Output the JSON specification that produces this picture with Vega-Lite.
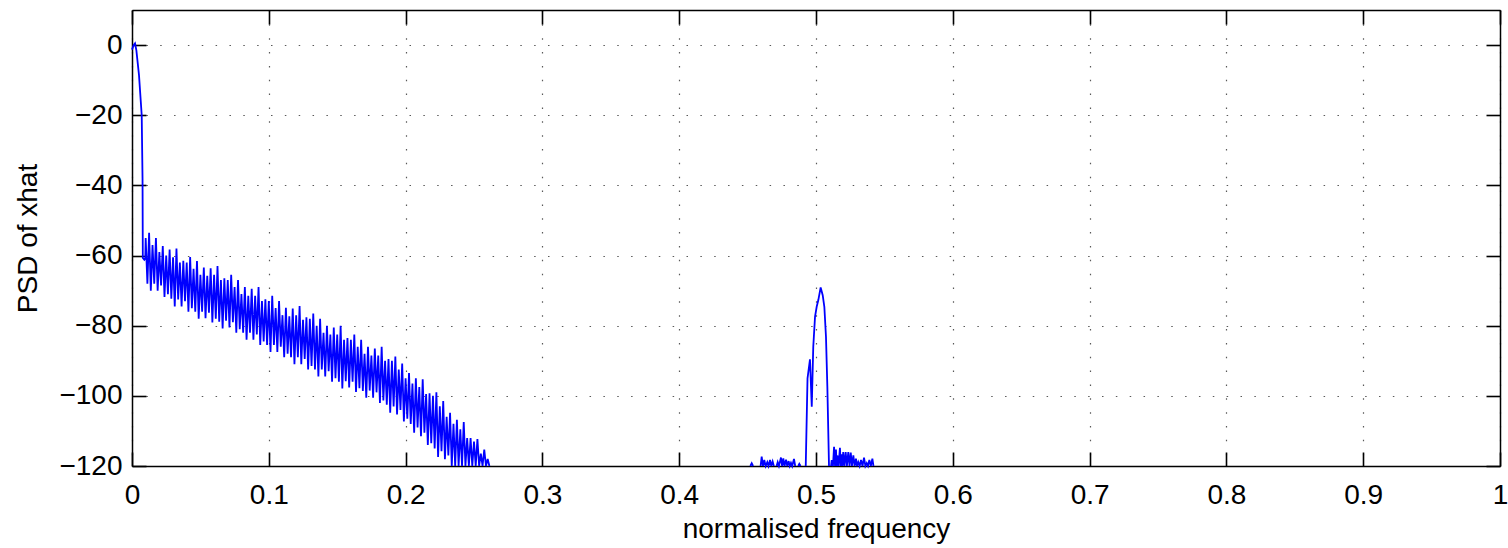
{
  "$schema": "https://vega.github.io/schema/vega-lite/v6.json",
  "width": 1368,
  "height": 456,
  "autosize": {"type": "none"},
  "padding": {"left": 132, "top": 10, "right": 8, "bottom": 82},
  "background": "white",
  "layer": [
    {
      "data": {"values": [
      {"s":1,"f":0,"p":-1.3},{"s":1,"f":0.0012,"p":0},{"s":1,"f":0.0022,"p":0.5},{"s":1,"f":0.0032,"p":-1.5},{"s":1,"f":0.0051,"p":-8.5},{"s":1,"f":0.0071,"p":-20},{"s":1,"f":0.0077,"p":-38},{"s":1,"f":0.0079,"p":-60.7},{"s":1,"f":0.009,"p":-61.2},{"s":1,"f":0.0097,"p":-60.8},
      {"s":1,"f":0.01,"p":-55},{"s":1,"f":0.01125,"p":-68},
      {"s":1,"f":0.0125,"p":-53.5},{"s":1,"f":0.01375,"p":-70},
      {"s":1,"f":0.015,"p":-57},{"s":1,"f":0.01625,"p":-68},
      {"s":1,"f":0.0175,"p":-55},{"s":1,"f":0.01875,"p":-70},
      {"s":1,"f":0.02,"p":-59},{"s":1,"f":0.02125,"p":-68.5},
      {"s":1,"f":0.0225,"p":-57.3},{"s":1,"f":0.02375,"p":-71.8},
      {"s":1,"f":0.025,"p":-60},{"s":1,"f":0.02625,"p":-71},
      {"s":1,"f":0.0275,"p":-58.3},{"s":1,"f":0.02875,"p":-72.3},
      {"s":1,"f":0.03,"p":-60.5},{"s":1,"f":0.03125,"p":-74.5},
      {"s":1,"f":0.0325,"p":-58},{"s":1,"f":0.03375,"p":-72.5},
      {"s":1,"f":0.035,"p":-62},{"s":1,"f":0.03625,"p":-74.5},
      {"s":1,"f":0.0375,"p":-61.5},{"s":1,"f":0.03875,"p":-73},
      {"s":1,"f":0.04,"p":-62},{"s":1,"f":0.04125,"p":-76},
      {"s":1,"f":0.0425,"p":-60.4},{"s":1,"f":0.04375,"p":-75},
      {"s":1,"f":0.045,"p":-63.8},{"s":1,"f":0.04625,"p":-76},
      {"s":1,"f":0.0475,"p":-61.6},{"s":1,"f":0.04875,"p":-78},
      {"s":1,"f":0.05,"p":-65.5},{"s":1,"f":0.05125,"p":-76},
      {"s":1,"f":0.0525,"p":-63.4},{"s":1,"f":0.05375,"p":-77.9},
      {"s":1,"f":0.055,"p":-65.8},{"s":1,"f":0.05625,"p":-76.3},
      {"s":1,"f":0.0575,"p":-63.6},{"s":1,"f":0.05875,"p":-79.1},
      {"s":1,"f":0.06,"p":-65.5},{"s":1,"f":0.06125,"p":-78},
      {"s":1,"f":0.0625,"p":-63},{"s":1,"f":0.06375,"p":-78.9},
      {"s":1,"f":0.065,"p":-67},{"s":1,"f":0.06625,"p":-80.8},
      {"s":1,"f":0.0675,"p":-66.5},{"s":1,"f":0.06875,"p":-78.6},
      {"s":1,"f":0.07,"p":-67},{"s":1,"f":0.07125,"p":-80.5},
      {"s":1,"f":0.0725,"p":-65.5},{"s":1,"f":0.07375,"p":-79},
      {"s":1,"f":0.075,"p":-69},{"s":1,"f":0.07625,"p":-82},
      {"s":1,"f":0.0775,"p":-67},{"s":1,"f":0.07875,"p":-81},
      {"s":1,"f":0.08,"p":-71},{"s":1,"f":0.08125,"p":-82},
      {"s":1,"f":0.0825,"p":-69},{"s":1,"f":0.08375,"p":-84},
      {"s":1,"f":0.085,"p":-71.5},{"s":1,"f":0.08625,"p":-82},
      {"s":1,"f":0.0875,"p":-69.5},{"s":1,"f":0.08875,"p":-84},
      {"s":1,"f":0.09,"p":-71.5},{"s":1,"f":0.09125,"p":-82.5},
      {"s":1,"f":0.0925,"p":-69},{"s":1,"f":0.09375,"p":-85.5},
      {"s":1,"f":0.095,"p":-73},{"s":1,"f":0.09625,"p":-84.5},
      {"s":1,"f":0.0975,"p":-72.5},{"s":1,"f":0.09875,"p":-85.5},
      {"s":1,"f":0.1,"p":-73},{"s":1,"f":0.10125,"p":-87.5},
      {"s":1,"f":0.1025,"p":-71.5},{"s":1,"f":0.10375,"p":-85.5},
      {"s":1,"f":0.105,"p":-75},{"s":1,"f":0.10625,"p":-87.5},
      {"s":1,"f":0.1075,"p":-73},{"s":1,"f":0.10875,"p":-86},
      {"s":1,"f":0.11,"p":-77},{"s":1,"f":0.11125,"p":-89},
      {"s":1,"f":0.1125,"p":-74.9},{"s":1,"f":0.11375,"p":-88},
      {"s":1,"f":0.115,"p":-77.3},{"s":1,"f":0.11625,"p":-89},
      {"s":1,"f":0.1175,"p":-75.1},{"s":1,"f":0.11875,"p":-91},
      {"s":1,"f":0.12,"p":-77},{"s":1,"f":0.12125,"p":-89},
      {"s":1,"f":0.1225,"p":-74.4},{"s":1,"f":0.12375,"p":-91},
      {"s":1,"f":0.125,"p":-78.3},{"s":1,"f":0.12625,"p":-89.5},
      {"s":1,"f":0.1275,"p":-77.6},{"s":1,"f":0.12875,"p":-92.5},
      {"s":1,"f":0.13,"p":-78},{"s":1,"f":0.13125,"p":-91.5},
      {"s":1,"f":0.1325,"p":-76.5},{"s":1,"f":0.13375,"p":-92.5},
      {"s":1,"f":0.135,"p":-80},{"s":1,"f":0.13625,"p":-94.5},
      {"s":1,"f":0.1375,"p":-78},{"s":1,"f":0.13875,"p":-92.5},
      {"s":1,"f":0.14,"p":-82},{"s":1,"f":0.14125,"p":-94.5},
      {"s":1,"f":0.1425,"p":-80},{"s":1,"f":0.14375,"p":-93},
      {"s":1,"f":0.145,"p":-82.5},{"s":1,"f":0.14625,"p":-96},
      {"s":1,"f":0.1475,"p":-80.5},{"s":1,"f":0.14875,"p":-95},
      {"s":1,"f":0.15,"p":-82.5},{"s":1,"f":0.15125,"p":-96},
      {"s":1,"f":0.1525,"p":-80},{"s":1,"f":0.15375,"p":-97.9},
      {"s":1,"f":0.155,"p":-84},{"s":1,"f":0.15625,"p":-95.8},
      {"s":1,"f":0.1575,"p":-83.5},{"s":1,"f":0.15875,"p":-97.6},
      {"s":1,"f":0.16,"p":-84},{"s":1,"f":0.16125,"p":-96},
      {"s":1,"f":0.1625,"p":-82.5},{"s":1,"f":0.16375,"p":-98.9},
      {"s":1,"f":0.165,"p":-86},{"s":1,"f":0.16625,"p":-97.8},
      {"s":1,"f":0.1675,"p":-84},{"s":1,"f":0.16875,"p":-98.6},
      {"s":1,"f":0.17,"p":-88},{"s":1,"f":0.17125,"p":-100.5},
      {"s":1,"f":0.1725,"p":-86},{"s":1,"f":0.17375,"p":-98.5},
      {"s":1,"f":0.175,"p":-88.5},{"s":1,"f":0.17625,"p":-100.5},
      {"s":1,"f":0.1775,"p":-86.5},{"s":1,"f":0.17875,"p":-99},
      {"s":1,"f":0.18,"p":-88.5},{"s":1,"f":0.18125,"p":-102},
      {"s":1,"f":0.1825,"p":-86},{"s":1,"f":0.18375,"p":-101.3},
      {"s":1,"f":0.185,"p":-90},{"s":1,"f":0.18625,"p":-102.5},
      {"s":1,"f":0.1875,"p":-89.5},{"s":1,"f":0.18875,"p":-104.8},
      {"s":1,"f":0.19,"p":-90},{"s":1,"f":0.19125,"p":-103},
      {"s":1,"f":0.1925,"p":-88.8},{"s":1,"f":0.19375,"p":-105.3},
      {"s":1,"f":0.195,"p":-92.5},{"s":1,"f":0.19625,"p":-104},
      {"s":1,"f":0.1975,"p":-90.8},{"s":1,"f":0.19875,"p":-107.3},
      {"s":1,"f":0.2,"p":-95},{"s":1,"f":0.20125,"p":-106.5},
      {"s":1,"f":0.2025,"p":-93.5},{"s":1,"f":0.20375,"p":-108},
      {"s":1,"f":0.205,"p":-96.5},{"s":1,"f":0.20625,"p":-110.5},
      {"s":1,"f":0.2075,"p":-95},{"s":1,"f":0.20875,"p":-109},
      {"s":1,"f":0.21,"p":-97.5},{"s":1,"f":0.21125,"p":-111.5},
      {"s":1,"f":0.2125,"p":-95.3},{"s":1,"f":0.21375,"p":-110.5},
      {"s":1,"f":0.215,"p":-99.5},{"s":1,"f":0.21625,"p":-114},
      {"s":1,"f":0.2175,"p":-99.3},{"s":1,"f":0.21875,"p":-113.5},
      {"s":1,"f":0.22,"p":-100},{"s":1,"f":0.22125,"p":-115},
      {"s":1,"f":0.2225,"p":-99},{"s":1,"f":0.22375,"p":-117.4},
      {"s":1,"f":0.225,"p":-103},{"s":1,"f":0.22625,"p":-115.8},
      {"s":1,"f":0.2275,"p":-101.5},{"s":1,"f":0.22875,"p":-118.1},
      {"s":1,"f":0.23,"p":-106},{"s":1,"f":0.23125,"p":-117},
      {"s":1,"f":0.2325,"p":-104.8},{"s":1,"f":0.23375,"p":-120.5},
      {"s":1,"f":0.235,"p":-108},{"s":1,"f":0.23625,"p":-124},
      {"s":1,"f":0.2375,"p":-106.8},{"s":1,"f":0.23875,"p":-124},
      {"s":1,"f":0.24,"p":-109.5},{"s":1,"f":0.24125,"p":-124},
      {"s":1,"f":0.2425,"p":-107.5},{"s":1,"f":0.24375,"p":-124},
      {"s":1,"f":0.245,"p":-112},{"s":1,"f":0.24625,"p":-124},
      {"s":1,"f":0.2475,"p":-112},{"s":1,"f":0.24875,"p":-124},
      {"s":1,"f":0.25,"p":-113},{"s":1,"f":0.25125,"p":-124},
      {"s":1,"f":0.2525,"p":-112.3},{"s":1,"f":0.25375,"p":-124},
      {"s":1,"f":0.255,"p":-116.5},{"s":1,"f":0.25625,"p":-124},
      {"s":1,"f":0.2575,"p":-115.3},{"s":1,"f":0.25875,"p":-124},
      {"s":1,"f":0.26,"p":-118},{"s":1,"f":0.26125,"p":-124},
      {"s":2,"f":0.452,"p":-124},
      {"s":2,"f":0.453,"p":-119.2},{"s":2,"f":0.454,"p":-124},
      {"s":3,"f":0.4595,"p":-124},
      {"s":3,"f":0.4603,"p":-117.3},{"s":3,"f":0.4612,"p":-124},
      {"s":3,"f":0.4622,"p":-118.3},{"s":3,"f":0.4632,"p":-124},
      {"s":3,"f":0.4644,"p":-118.9},{"s":3,"f":0.4653,"p":-124},
      {"s":3,"f":0.4664,"p":-118.3},{"s":3,"f":0.4673,"p":-124},
      {"s":3,"f":0.4683,"p":-118.7},{"s":3,"f":0.4692,"p":-124},
      {"s":4,"f":0.4712,"p":-124},
      {"s":4,"f":0.472,"p":-118.9},{"s":4,"f":0.4729,"p":-124},
      {"s":4,"f":0.4744,"p":-117.6},{"s":4,"f":0.4752,"p":-124},
      {"s":4,"f":0.4761,"p":-117.8},{"s":4,"f":0.477,"p":-124},
      {"s":4,"f":0.4781,"p":-118.2},{"s":4,"f":0.479,"p":-124},
      {"s":4,"f":0.48,"p":-118.6},{"s":4,"f":0.4808,"p":-124},
      {"s":4,"f":0.4817,"p":-119.1},{"s":4,"f":0.4826,"p":-124},
      {"s":4,"f":0.4839,"p":-118},{"s":4,"f":0.4848,"p":-124},
      {"s":5,"f":0.487,"p":-124},
      {"s":5,"f":0.4878,"p":-119.4},{"s":5,"f":0.4887,"p":-124},
      {"s":6,"f":0.4925,"p":-125},{"s":6,"f":0.4938,"p":-95},{"s":6,"f":0.4956,"p":-89.6},{"s":6,"f":0.4969,"p":-103.1},{"s":6,"f":0.498,"p":-86},{"s":6,"f":0.4993,"p":-77.4},{"s":6,"f":0.5005,"p":-74.6},{"s":6,"f":0.5017,"p":-72.7},{"s":6,"f":0.5034,"p":-69.1},{"s":6,"f":0.5049,"p":-71.3},{"s":6,"f":0.5061,"p":-74.6},{"s":6,"f":0.5073,"p":-83.2},{"s":6,"f":0.5083,"p":-97.4},{"s":6,"f":0.5095,"p":-125},
      {"s":7,"f":0.511,"p":-124},{"s":7,"f":0.5115,"p":-118.3},{"s":7,"f":0.5124,"p":-123},{"s":7,"f":0.5132,"p":-114.5},{"s":7,"f":0.5139,"p":-122},{"s":7,"f":0.5146,"p":-115.3},{"s":7,"f":0.5151,"p":-122},{"s":7,"f":0.5156,"p":-117},{"s":7,"f":0.5165,"p":-122},{"s":7,"f":0.5175,"p":-114.8},{"s":7,"f":0.5181,"p":-122},{"s":7,"f":0.5187,"p":-116.7},{"s":7,"f":0.5193,"p":-122},{"s":7,"f":0.5199,"p":-116},{"s":7,"f":0.5208,"p":-122},{"s":7,"f":0.5217,"p":-116},{"s":7,"f":0.5226,"p":-122},{"s":7,"f":0.5236,"p":-116},{"s":7,"f":0.5245,"p":-122},{"s":7,"f":0.5254,"p":-116.2},{"s":7,"f":0.5263,"p":-122},{"s":7,"f":0.5273,"p":-117},{"s":7,"f":0.5282,"p":-122},{"s":7,"f":0.5292,"p":-117.9},{"s":7,"f":0.53,"p":-122},{"s":7,"f":0.5309,"p":-118.9},{"s":7,"f":0.5319,"p":-122},{"s":7,"f":0.5329,"p":-118.3},{"s":7,"f":0.534,"p":-122},{"s":7,"f":0.5351,"p":-117.6},{"s":7,"f":0.5361,"p":-122},{"s":7,"f":0.5371,"p":-119.2},{"s":7,"f":0.538,"p":-122},{"s":7,"f":0.539,"p":-118.3},{"s":7,"f":0.5401,"p":-122},{"s":7,"f":0.5412,"p":-117.9},{"s":7,"f":0.542,"p":-124}
      ]},
      "mark": {"type": "line", "color": "#0000ff", "strokeWidth": 1.8},
      "encoding": {
        "detail": {"field": "s", "type": "nominal"},
        "x": {"field": "f", "type": "quantitative",
          "scale": {"domain": [0, 1], "nice": false},
          "axis": {"orient": "bottom", "values": [0,0.1,0.2,0.3,0.4,0.5,0.6,0.7,0.8,0.9,1], "format": "~g",
            "title": "normalised frequency", "ticks": false, "tickSize": 0, "labelPadding": 15, "titlePadding": 6,
            "domainColor": "#000", "domainWidth": 1.5, "labelFlush": false, "labelOverlap": false,
            "labelColor": "#000", "titleColor": "#000", "labelFont": "Liberation Sans", "titleFont": "Liberation Sans",
            "labelFontSize": 28, "titleFontSize": 28, "titleFontWeight": "normal",
            "grid": true, "gridDash": [1.5, 12.35], "gridColor": "#000", "gridOpacity": 0.65, "gridWidth": 1.2}},
        "y": {"field": "p", "type": "quantitative",
          "scale": {"domain": [-120, 10], "nice": false, "clamp": true},
          "axis": {"orient": "left", "values": [-120,-100,-80,-60,-40,-20,0],
            "title": "PSD of xhat", "ticks": false, "tickSize": 0, "labelPadding": 10, "titlePadding": 16,
            "domainColor": "#000", "domainWidth": 1.5, "labelFlush": false, "labelOverlap": false,
            "labelColor": "#000", "titleColor": "#000", "labelFont": "Liberation Sans", "titleFont": "Liberation Sans",
            "labelFontSize": 28, "titleFontSize": 28, "titleFontWeight": "normal",
            "grid": true, "gridDash": [1.5, 12.35], "gridColor": "#000", "gridOpacity": 0.65, "gridWidth": 1.2}}
      }
    },
    {
      "data": {"values": [{"f":0,"p":-120},{"f":1,"p":10}]},
      "mark": {"type": "line", "opacity": 0},
      "encoding": {
        "x": {"field": "f", "type": "quantitative", "scale": {"domain": [0, 1], "nice": false},
          "axis": {"orient": "top", "offset": -456, "values": [0,0.1,0.2,0.3,0.4,0.5,0.6,0.7,0.8,0.9,1], "labels": false, "title": null, "domain": false, "tickSize": 14, "grid": false, "tickColor": "black", "tickWidth": 1.6}},
        "y": {"field": "p", "type": "quantitative", "scale": {"domain": [-120, 10], "nice": false, "clamp": true},
          "axis": {"orient": "right", "offset": -1368, "values": [-120,-100,-80,-60,-40,-20,0], "labels": false, "title": null, "domain": false, "tickSize": 14, "grid": false, "tickColor": "black", "tickWidth": 1.6}}
      }
    },
    {
      "data": {"values": [{"f":0,"p":-120},{"f":1,"p":10}]},
      "mark": {"type": "line", "opacity": 0},
      "encoding": {
        "x": {"field": "f", "type": "quantitative", "scale": {"domain": [0, 1], "nice": false},
          "axis": {"orient": "bottom", "offset": -456, "values": [0,0.1,0.2,0.3,0.4,0.5,0.6,0.7,0.8,0.9,1], "labels": false, "title": null, "domain": true, "domainColor": "#000", "domainWidth": 1.5, "tickSize": 14, "grid": false, "tickColor": "black", "tickWidth": 1.6}},
        "y": {"field": "p", "type": "quantitative", "scale": {"domain": [-120, 10], "nice": false, "clamp": true},
          "axis": {"orient": "left", "offset": -1368, "values": [-120,-100,-80,-60,-40,-20,0], "labels": false, "title": null, "domain": true, "domainColor": "#000", "domainWidth": 1.5, "tickSize": 14, "grid": false, "tickColor": "black", "tickWidth": 1.6}}
      }
    }
  ],
  "resolve": {"axis": {"x": "independent", "y": "independent"}}
}
